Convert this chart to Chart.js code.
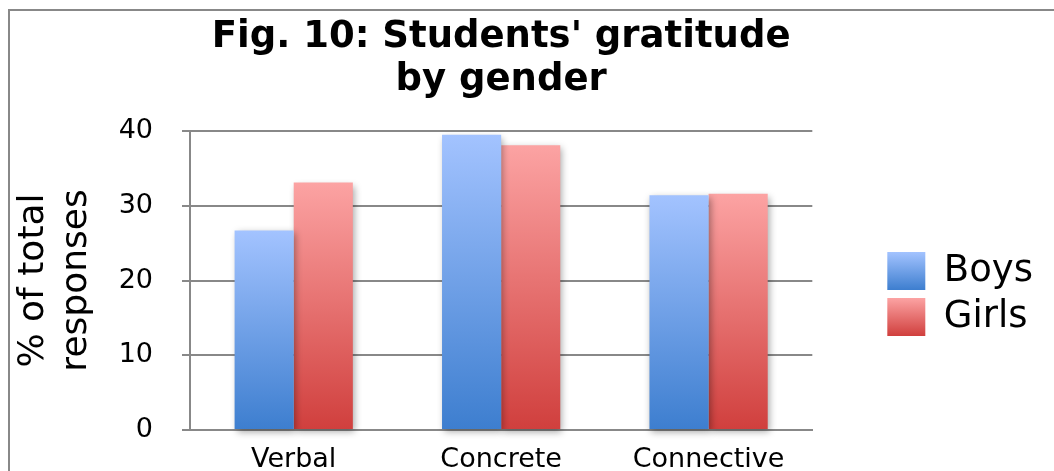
<!DOCTYPE html>
<html>
<head>
<meta charset="utf-8">
<script src="https://cdn.jsdelivr.net/npm/chart.js@4/dist/chart.umd.min.js"></script>
<style>
  html, body { margin: 0; padding: 0; background: #fff; }
  #wrap { width: 1054px; height: 471px; position: relative; }
</style>
</head>
<body>
<div id="wrap"><canvas id="chart"></canvas></div>
<script>
const categories = ['Verbal', 'Concrete', 'Connective'];
const boysValues = [26.7, 39.5, 31.4];
const girlsValues = [33.1, 38.1, 31.6];
const yTicks = [0, 10, 20, 30, 40];
const titleLines = ["Fig. 10: Students' gratitude", 'by gender'];
const yTitle = ['% of total', 'responses'];

const FONT = '"DejaVu Sans", Verdana, sans-serif';
const BOYS = ['#a3c3ff', '#3d7ecf'];
const GIRLS = ['#fca3a3', '#d03f3d'];

// vertical gradient running from the top of each bar down to its base
function barGradient(c, colors) {
    const chart = c.chart;
    if (!chart.chartArea || c.type !== 'data') return colors[1];
    const y = chart.scales.y;
    const top = y.getPixelForValue(c.raw);
    const base = y.getPixelForValue(0);
    const g = chart.ctx.createLinearGradient(0, top, 0, base);
    g.addColorStop(0, colors[0]);
    g.addColorStop(1, colors[1]);
    return g;
}

const framePlugin = {
    id: 'frame',
    beforeDraw(chart) {
        const ctx = chart.ctx;
        ctx.save();
        ctx.fillStyle = '#888';
        ctx.fillRect(8, 9, chart.width - 8, 2);
        ctx.fillRect(8, 9, 2, chart.height - 9);
        ctx.restore();

        // legend swatches get the same gradient as the bars
        const legend = chart.legend;
        if (legend && legend.legendItems) {
            legend.legendItems.forEach((item, i) => {
                const hb = legend.legendHitBoxes[i];
                const colors = i === 0 ? BOYS : GIRLS;
                const g = ctx.createLinearGradient(0, hb.top, 0, hb.top + 38);
                g.addColorStop(0, colors[0]);
                g.addColorStop(1, colors[1]);
                item.fillStyle = g;
            });
        }
    },
    afterDraw(chart) {
        const ctx = chart.ctx;
        const area = chart.chartArea;
        ctx.save();
        ctx.fillStyle = '#000';
        ctx.font = 'bold 37px ' + FONT;
        ctx.textAlign = 'center';
        ctx.textBaseline = 'alphabetic';
        const cx = (area.left + area.right) / 2;
        ctx.fillText(titleLines[0], cx, 47);
        ctx.fillText(titleLines[1], cx, 90);
        ctx.restore();
    }
};

const shadowPlugin = {
    id: 'barShadow',
    beforeDatasetsDraw(chart) {
        const ctx = chart.ctx;
        ctx.save();
        ctx.shadowColor = 'rgba(0,0,0,0.35)';
        ctx.shadowBlur = 7;
        ctx.shadowOffsetX = 2;
        ctx.shadowOffsetY = 3;
    },
    afterDatasetsDraw(chart) {
        chart.ctx.restore();
    }
};

const ctx = document.querySelector('#chart').getContext('2d');
new Chart(ctx, {
    type: 'bar',
    data: {
        labels: categories,
        datasets: [{
            label: 'Boys',
            data: boysValues,
            backgroundColor: c => barGradient(c, BOYS),
            borderWidth: 0,
            clip: false
        }, {
            label: 'Girls',
            data: girlsValues,
            backgroundColor: c => barGradient(c, GIRLS),
            borderWidth: 0,
            clip: false
        }]
    },
    options: {
        responsive: true,
        maintainAspectRatio: false,
        animation: false,
        datasets: {
            bar: { categoryPercentage: 0.57, barPercentage: 1.0 }
        },
        layout: {
            padding: { left: 10, right: 11, top: 131, bottom: 0 }
        },
        scales: {
            x: {
                grid: { display: false, drawTicks: false },
                border: { display: true, color: '#888', width: 2 },
                ticks: {
                    color: '#000',
                    padding: 14,
                    font: { family: FONT, size: 27, lineHeight: 1.2 }
                },
                afterFit: scale => { scale.height = 41; }
            },
            y: {
                min: 0,
                max: 40,
                afterBuildTicks: scale => {
                    scale.ticks = yTicks.map(v => ({ value: v }));
                },
                grid: { color: '#888', lineWidth: 2, tickLength: 8 },
                border: { display: true, color: '#888', width: 2 },
                ticks: {
                    color: '#000',
                    padding: 29,
                    font: { family: FONT, size: 27, lineHeight: 0.8 }
                },
                title: {
                    display: true,
                    text: yTitle,
                    color: '#000',
                    padding: { top: 3, bottom: 20 },
                    font: { family: FONT, size: 36, lineHeight: 1.17 }
                },
                afterFit: scale => { scale.width = 180; }
            },
            gap: {
                type: 'linear',
                position: 'right',
                display: true,
                grid: { display: false },
                border: { display: false },
                ticks: { display: false },
                afterFit: scale => { scale.width = 67; }
            }
        },
        plugins: {
            title: { display: false },
            tooltip: { enabled: false },
            legend: {
                position: 'right',
                align: 'start',
                title: {
                    display: true,
                    text: ' ',
                    padding: { top: 50.5, bottom: 50.5 },
                    font: { size: 10, lineHeight: 1.2 }
                },
                labels: {
                    boxWidth: 38,
                    boxHeight: 38,
                    padding: 8,
                    color: '#000',
                    font: { family: FONT, size: 37 }
                }
            }
        }
    },
    plugins: [framePlugin, shadowPlugin]
});
</script>
</body>
</html>
